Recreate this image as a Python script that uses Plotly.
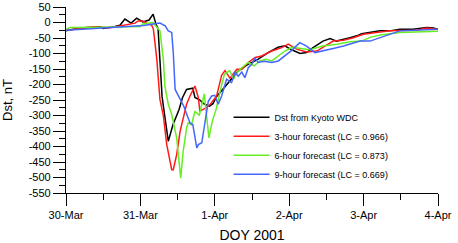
import plotly.graph_objects as go

# hours since 30-Mar 00:00 (2001)
dst_h = [0, 4.5, 11, 12, 15.8, 17.4, 19, 21, 22.8, 24.8, 26.8, 28.1, 29, 29.7, 31, 32, 33,
         34.5, 36.5, 37.6, 38.9, 40.9, 41.6, 43.2, 44.4, 46.3, 47.4, 48.5, 50, 51.9, 55.5,
         58.7, 61.9, 65.2, 68.4, 70.6, 72.8, 75.5, 77.6, 79.7, 82.9, 85.2, 87.3, 91.6, 93.8,
         95.4, 98.1, 101.3, 104.5, 107.7, 111.9, 116.4, 118.5, 120]
dst_v = [-27, -18, -14, -19, -13, -9, 11, -2, 14, 2, 8, 27, -5, -20, -240, -320, -383,
         -330, -280, -242, -216, -212, -242, -250, -262, -270, -262, -240, -222, -200, -157,
         -135, -119, -97, -80, -75, -88, -100, -97, -81, -60, -52, -60, -49, -43,
         -36, -32, -27, -27, -22, -22, -16, -18, -22]

f3_h = [0, 4.5, 8.7, 14.2, 17.4, 20, 22.3, 23.3, 24.8, 26.1, 27.6, 28.2, 29.3, 30.3, 31.4,
        32.5, 34.1, 34.6, 35.7, 36.8, 37.8, 38.9, 40, 41.6, 42.7, 43.2, 45.4, 46.5, 48.6,
        50.2, 51.3, 52.9, 55.1, 56.8, 58.8, 61, 63.1, 66.4, 69.6, 71.7, 74.4, 77.6, 80.9,
        83, 86.2, 89.5, 92.7, 95.9, 100.2, 104.5, 108.7, 113.1, 116.4, 119.6]
f3_v = [-25, -20, -14, -17, -12, -8, -2, 5, 5, -3, -8, -22, -119, -248, -300,
        -394, -475, -475, -426, -351, -307, -264, -237, -205, -243, -286, -274, -264, -237,
        -170, -155, -180, -151, -150, -129, -113, -108, -92, -81, -70, -86, -95, -92,
        -79, -60, -57, -49, -38, -32, -27, -26, -25, -18, -22]

f6_h = [0, 1.3, 11, 17.4, 23.9, 24.8, 28.1, 29.7, 30.3, 31.4, 31.9, 33, 34.1, 35.7, 37,
        37.8, 38.9, 39.4, 40.5, 41.6, 43, 44.6, 46.1, 47.2, 48.4, 50, 51.1, 52.8, 54, 55.3,
        56.7, 58.8, 60.7, 62.5, 64.5, 66.4, 68.5, 70.6, 73, 76.8, 78.7, 82.8, 87.4, 91.6,
        95.4, 98.1, 101.3, 107.7, 120]
f6_v = [-22, -16, -15, -15, -13, -5, 0, -20, -27, -119, -205, -264, -297, -372, -502,
        -416, -340, -324, -330, -286, -300, -230, -372, -318, -281, -210, -167, -155, -183, -160,
        -146, -129, -140, -124, -119, -124, -108, -92, -80, -85, -88, -76, -70, -62,
        -60, -48, -40, -32, -28]

f9_h = [0, 5, 15, 25, 28.1, 30.3, 32, 33, 34.1, 34.6, 35.2, 36.2, 37.3, 38, 40, 40.9, 42.2,
        42.7, 43.8, 44.8, 45.9, 47, 48, 49.1, 50.2, 51.8, 53.4, 54.5, 55.6, 56.7, 57.7, 58.8,
        59.9, 61, 62, 64, 66.4, 68.5, 70.6, 72.8, 75.4, 77.6, 80.3, 83, 86.2, 89.5, 91.6,
        94.9, 98.1, 101.3, 104.5, 107.7, 120]
f9_v = [-25, -22, -17, -10, -5, -2, -11, -27, -32, -97, -216, -237, -259, -270, -324, -329, -405,
        -394, -388, -318, -254, -237, -235, -264, -237, -183, -194, -162, -173, -160, -178, -146,
        -135, -115, -129, -125, -129, -124, -108, -90, -65, -76, -97, -92, -84, -76, -70,
        -60, -60, -49, -38, -27, -22]

x_tick_vals = [0, 24, 48, 72, 96, 120]
x_tick_text = ["30-Mar", "31-Mar", "1-Apr", "2-Apr", "3-Apr", "4-Apr"]
y_tick_vals = list(range(50, -551, -50))
y_tick_text = [str(v) for v in y_tick_vals]

names = ["Dst from Kyoto WDC", "3-hour forecast (LC = 0.966)",
         "6-hour forecast (LC = 0.873)", "9-hour forecast (LC = 0.669)"]
colors = ["#000000", "#ff1a1a", "#66ee22", "#4466ff"]

fig = go.Figure()
for hx, vy, nm, c in zip([dst_h, f3_h, f6_h, f9_h], [dst_v, f3_v, f6_v, f9_v], names, colors):
    fig.add_trace(go.Scatter(x=hx, y=vy, mode="lines", name=nm,
                             line=dict(color=c, width=1.5)))

font = "Liberation Sans, Arial, sans-serif"
fig.update_layout(
    width=458, height=243,
    margin=dict(l=66, r=20, t=7, b=50, autoexpand=False),
    paper_bgcolor="white", plot_bgcolor="white",
    font=dict(family=font, color="black", size=11),
    legend=dict(x=0.437, y=0.485, xanchor="left", yanchor="top",
                bgcolor="rgba(0,0,0,0)", font=dict(size=9, family=font),
                tracegroupgap=0, itemwidth=36),
    showlegend=True,
)
fig.update_xaxes(range=[0, 120], tickvals=x_tick_vals, ticktext=x_tick_text,
                 automargin=False,
                 ticks="outside", ticklen=12, tickwidth=1, tickcolor="black",
                 showline=True, linecolor="black", linewidth=1.2,
                 showgrid=False, zeroline=False,
                 minor=dict(dtick=12, tick0=0, ticks="outside", ticklen=6,
                            tickcolor="black", tickwidth=1, showgrid=False),
                 tickfont=dict(size=11),
                 title=dict(text="DOY 2001", font=dict(size=14)))
fig.update_yaxes(range=[-550, 50], tickvals=y_tick_vals, ticktext=y_tick_text,
                 automargin=False,
                 ticks="outside", ticklen=12, tickwidth=1, tickcolor="black",
                 showline=True, linecolor="black", linewidth=1.2,
                 showgrid=False, zeroline=False,
                 minor=dict(dtick=25, tick0=0, ticks="outside", ticklen=6,
                            tickcolor="black", tickwidth=1, showgrid=False),
                 tickfont=dict(size=11),
                 title=dict(text="Dst, nT", font=dict(size=13)))

fig.write_html("out.html", config={"displayModeBar": False},
               post_script="document.body.style.margin='0';document.body.style.overflow='hidden';")
